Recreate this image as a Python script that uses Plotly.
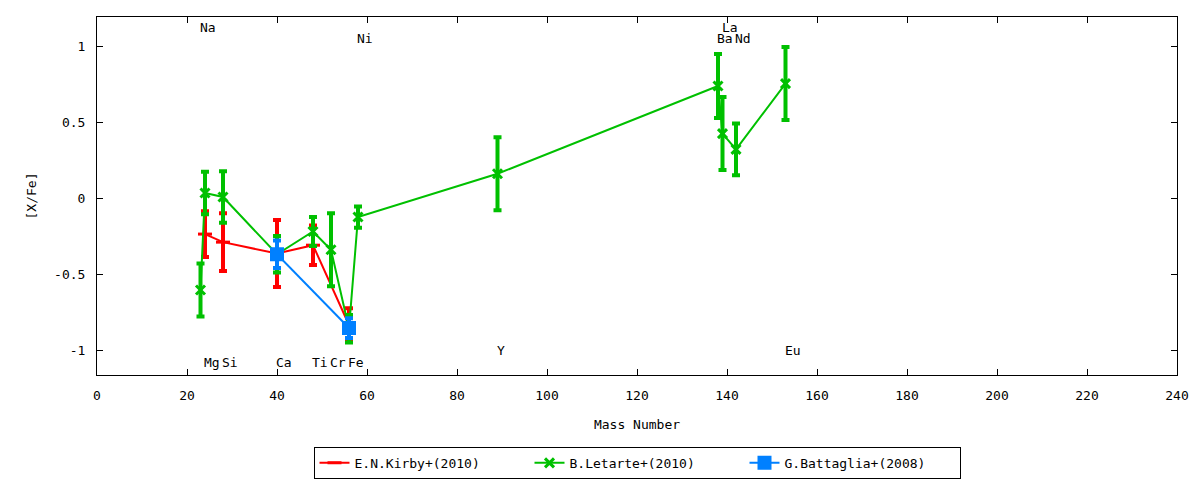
import plotly.graph_objects as go

# ---- data ----
letarte_mass = [23, 24, 28, 40, 48, 52, 56, 58, 89, 138, 139, 142, 153]
letarte_val = [-0.605, 0.033, 0.007, -0.37, -0.22, -0.34, -0.86, -0.125, 0.16, 0.737, 0.424, 0.32, 0.753]
letarte_err = [0.174, 0.14, 0.17, 0.12, 0.095, 0.24, 0.09, 0.07, 0.24, 0.21, 0.24, 0.17, 0.24]

kirby_mass = [24, 28, 40, 48, 56]
kirby_val = [-0.237, -0.29, -0.365, -0.31, -0.835]
kirby_err = [0.15, 0.19, 0.22, 0.13, 0.11]

battaglia_mass = [40, 56]
battaglia_val = [-0.37, -0.855]
battaglia_err = [0.09, 0.065]

label_names = ["Na", "Mg", "Si", "Ca", "Ti", "Cr", "Fe", "Ni", "Y", "Ba", "La", "Nd", "Eu"]
label_mass = [23, 24, 28, 40, 48, 52, 56, 58, 89, 138, 139, 142, 153]
label_y = [1.12, -1.085, -1.085, -1.085, -1.085, -1.085, -1.085, 1.05, -1.0, 1.05, 1.125, 1.05, -1.0]

x_ticks = [0, 20, 40, 60, 80, 100, 120, 140, 160, 180, 200, 220, 240]
y_ticks = [-1, -0.5, 0, 0.5, 1]

FONT = "DejaVu Sans Mono"
RED = "#ff0000"
GREEN = "#00c000"
BLUE = "#0080ff"

fig = go.Figure()

def add_series(name, xs, ys, es, color, symbol, msize):
    fig.add_trace(go.Scatter(
        x=xs, y=ys, name=name, mode="lines+markers",
        line=dict(color=color, width=2),
        marker=dict(symbol=symbol, size=msize, color=color,
                    line=dict(color=color, width=3)),
        error_y=dict(type="data", array=es, visible=True,
                     thickness=4, width=4, color=color),
    ))

add_series("E.N.Kirby+(2010)", kirby_mass, kirby_val, kirby_err, RED, "line-ew", 10)
add_series("B.Letarte+(2010)", letarte_mass, letarte_val, letarte_err, GREEN, "x-thin", 9)
add_series("G.Battaglia+(2008)", battaglia_mass, battaglia_val, battaglia_err, BLUE, "square", 11)

for n, m, yv in zip(label_names, label_mass, label_y):
    fig.add_annotation(x=m, y=yv, text=n, showarrow=False, xanchor="left",
                       yanchor="middle", xshift=-3,
                       font=dict(family=FONT, size=13, color="black"))

axis_common = dict(showline=True, linecolor="black", linewidth=1, mirror="ticks",
                   ticks="inside", ticklen=6, tickcolor="black", showgrid=False,
                   zeroline=False, automargin=False,
                   tickfont=dict(family=FONT, size=13, color="black"))

fig.update_xaxes(range=[0, 240], tickvals=x_ticks, ticktext=[str(v) for v in x_ticks],
                 title=dict(text="Mass Number", font=dict(family=FONT, size=13), standoff=18),
                 ticklabelstandoff=8, **axis_common)
fig.update_yaxes(range=[-1.164, 1.191], tickvals=y_ticks,
                 ticktext=["-1", "-0.5", "0", "0.5", "1"],
                 title=dict(text="[X/Fe]", font=dict(family=FONT, size=13), standoff=14),
                 ticklabelstandoff=8, **axis_common)

fig.update_layout(
    width=1200, height=480,
    margin=dict(l=97, r=23, t=17, b=105, autoexpand=False),
    paper_bgcolor="white", plot_bgcolor="white",
    font=dict(family=FONT, size=13, color="black"),
    showlegend=True,
    legend=dict(orientation="h", x=0.5, xanchor="center",
                yref="container", y=0.069, yanchor="top",
                bordercolor="black", borderwidth=1, bgcolor="white",
                entrywidth=170, entrywidthmode="pixels",
                font=dict(family=FONT, size=13, color="black")),
)

fig.write_html("out.html", config={"displayModeBar": False},
               post_script="document.body.style.margin='0px';document.body.style.overflow='hidden';")
